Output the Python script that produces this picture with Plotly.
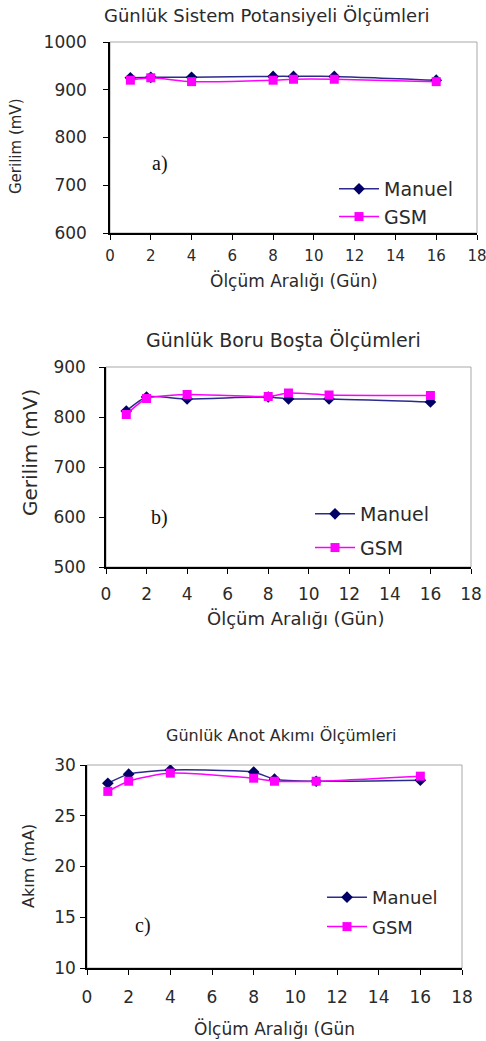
import plotly.graph_objects as go

days = [1, 2, 4, 8, 9, 11, 16]

# a) Günlük Sistem Potansiyeli
a_manuel = [925, 926, 926, 928, 928, 928, 920]
a_gsm = [920, 925, 917, 920, 922, 922, 917]

# b) Günlük Boru Boşta
b_manuel = [812, 840, 836, 840, 836, 836, 830]
b_gsm = [805, 837, 845, 841, 848, 844, 843]

# c) Günlük Anot Akımı
c_manuel = [28.2, 29.1, 29.5, 29.3, 28.6, 28.4, 28.5]
c_gsm = [27.4, 28.4, 29.2, 28.7, 28.4, 28.4, 28.9]

titles = ["Günlük Sistem Potansiyeli Ölçümleri", "Günlük Boru Boşta Ölçümleri", "Günlük Anot Akımı Ölçümleri"]
ytitles = ["Gerilim (mV)", "Gerilim (mV)", "Akım (mA)"]
xtitles = ["Ölçüm Aralığı (Gün)", "Ölçüm Aralığı (Gün)", "Ölçüm Aralığı (Gün"]
labels = ["a)", "b)", "c)"]
yranges = [[600, 1000], [500, 900], [10, 30]]
ydticks = [100, 100, 5]

W, H = 486, 1041
FONT = "DejaVu Sans"
TXT = "#2a2a2a"
NAVY_LINE = "#2b2b8c"
NAVY_MK = "#000066"
MAG = "#FF00FF"

def px_x(p):
    return p / W

def px_y(p):
    return 1 - p / H

# plot areas in pixels: (left, right, top, bottom)
areas = [(110, 477, 42, 233), (106, 471, 367, 567), (87, 462, 765, 968)]

fig = go.Figure()
series = [(a_manuel, a_gsm), (b_manuel, b_gsm), (c_manuel, c_gsm)]
legend_pos = [(334, 170), (310, 495), (322, 879)]
legend_gap = [0, 6, 3]
legend_font = [19, 19, 18]

for i, (man, gsm) in enumerate(series):
    n = "" if i == 0 else str(i + 1)
    leg = "legend" if i == 0 else f"legend{i+1}"
    fig.add_trace(go.Scatter(
        x=days, y=man, name="Manuel", mode="lines+markers",
        line=dict(color=NAVY_LINE, width=1.5, shape="spline", smoothing=0.6),
        marker=dict(symbol="diamond", size=9, color=NAVY_MK),
        xaxis="x" + n, yaxis="y" + n, legend=leg, legendgroup=f"m{i}"))
    fig.add_trace(go.Scatter(
        x=days, y=gsm, name="GSM", mode="lines+markers",
        line=dict(color=MAG, width=1.5, shape="spline", smoothing=0.6),
        marker=dict(symbol="square", size=9, color=MAG),
        xaxis="x" + n, yaxis="y" + n, legend=leg, legendgroup=f"g{i}"))

layout = dict(
    width=W, height=H, margin=dict(l=0, r=0, t=0, b=0, pad=0, autoexpand=False),
    paper_bgcolor="white", plot_bgcolor="white",
    font=dict(family=FONT, color=TXT, size=15),
    annotations=[], shapes=[],
)

title_pos = [(267, 15, 18), (283, 340, 19), (281, 735, 16)]
ytitle_pos = [(16, 147, 15), (30, 453, 20), (28, 866, 16)]
xtitle_pos = [(294, 280, 17), (295, 618, 18), (274, 1028, 17)]
label_pos = [(160, 163), (159, 517), (143, 925)]
xstand = [3, 6, 8]
ystand = [13, 10, 1]
xtick_size = [15, 17, 17]

for i in range(3):
    n = "" if i == 0 else str(i + 1)
    l, r, t, b = areas[i]
    layout["xaxis" + n] = dict(
        domain=[px_x(l), px_x(r)], anchor="y" + n, range=[0, 18], dtick=2,
        showline=True, linecolor="black", linewidth=1.5, showgrid=False, zeroline=False,
        ticks="outside", ticklen=5, tickcolor="black", tickfont=dict(size=xtick_size[i], color=TXT),
        ticklabelstandoff=xstand[i], ticklabeloverflow="allow",
        fixedrange=True, automargin=False)
    layout["yaxis" + n] = dict(
        domain=[px_y(b), px_y(t)], anchor="x" + n, range=yranges[i], dtick=ydticks[i],
        showline=True, linecolor="black", linewidth=1.5, showgrid=False, zeroline=False,
        ticks="outside", ticklen=5, tickcolor="black", tickfont=dict(size=17, color=TXT),
        ticklabelstandoff=ystand[i], ticklabeloverflow="allow",
        fixedrange=True, automargin=False)
    layout["shapes"].append(dict(
        type="rect", xref="x" + n + " domain", yref="y" + n + " domain",
        x0=0, x1=1, y0=0, y1=1, line=dict(color="#a8a8a8", width=1), layer="below"))
    tx, ty, ts = title_pos[i]
    layout["annotations"].append(dict(
        text=titles[i], x=px_x(tx), y=px_y(ty), xref="paper", yref="paper",
        xanchor="center", yanchor="middle",
        showarrow=False, font=dict(size=ts, color=TXT)))
    yx, yy, ys = ytitle_pos[i]
    layout["annotations"].append(dict(
        text=ytitles[i], x=px_x(yx), y=px_y(yy), xref="paper", yref="paper",
        xanchor="center", yanchor="middle",
        showarrow=False, textangle=-90, font=dict(size=ys, color=TXT)))
    xx, xy, xs = xtitle_pos[i]
    layout["annotations"].append(dict(
        text=xtitles[i], x=px_x(xx), y=px_y(xy), xref="paper", yref="paper",
        xanchor="center", yanchor="middle",
        showarrow=False, font=dict(size=xs, color=TXT)))
    lx, ly = label_pos[i]
    layout["annotations"].append(dict(
        text=labels[i], x=px_x(lx), y=px_y(ly), xref="paper", yref="paper",
        xanchor="center", yanchor="middle",
        showarrow=False, font=dict(size=20, color="#111", family="Liberation Serif")))
    lgx, lgy = legend_pos[i]
    key = "legend" if i == 0 else f"legend{i+1}"
    layout[key] = dict(
        x=px_x(lgx), y=px_y(lgy), xanchor="left", yanchor="top",
        bgcolor="rgba(0,0,0,0)", borderwidth=0, tracegroupgap=legend_gap[i],
        font=dict(size=legend_font[i], color=TXT), itemwidth=40)

fig.update_layout(**layout)
fig.write_html("out.html", config={"displayModeBar": False},
               post_script="document.body.style.margin='0';document.body.style.overflow='hidden';")
